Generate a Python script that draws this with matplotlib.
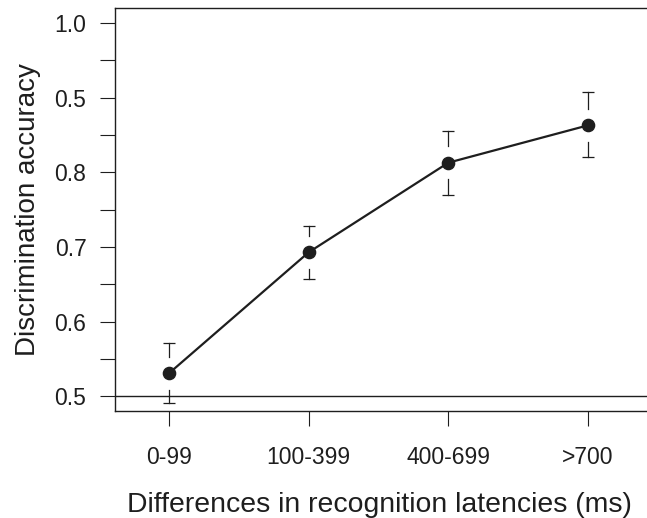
import matplotlib
matplotlib.use("Agg")
import matplotlib.pyplot as plt

plt.rcParams['font.family'] = ['Liberation Sans', 'DejaVu Sans']

# data
groups = ["0-99", "100-399", "400-699", ">700"]
accuracy = [0.531, 0.693, 0.813, 0.863]
upper = [0.571, 0.728, 0.856, 0.907]
lower = [0.491, 0.657, 0.770, 0.820]
ytick_vals = [0.5, 0.6, 0.7, 0.8, 0.9, 1.0]
ytick_text = ["0.5", "0.6", "0.7", "0.8", "0.5", "1.0"]  # as printed in the original
yminor_vals = [0.55, 0.65, 0.75, 0.85, 0.95]

xpos = list(range(1, len(groups) + 1))
gap = 0.0223
ink = "#1e1e1e"

fig = plt.figure(figsize=(6.47, 5.18), dpi=100)
ax = fig.add_axes([0.1777, 0.2072, 0.8223, 0.7774])

ax.axhline(0.5, color=ink, lw=1.0, zorder=1)

# error bars with a gap around the point
for x, m, u, l in zip(xpos, accuracy, upper, lower):
    ax.plot([x, x], [m + gap, u], color=ink, lw=0.9)
    ax.plot([x, x], [m - gap, l], color=ink, lw=0.9)
ax.plot(xpos, upper, ls='none', marker='_', ms=9, mew=0.9, color=ink)
ax.plot(xpos, lower, ls='none', marker='_', ms=9, mew=0.9, color=ink)

ax.plot(xpos, accuracy, color=ink, lw=1.6, marker='o', ms=8.8, zorder=3)

ax.set_xlim(0.6135, 4.422)
ax.set_ylim(0.481, 1.0201)

ax.set_xticks(xpos)
ax.set_xticklabels(groups, fontsize=16.5)
ax.set_yticks(ytick_vals)
ax.set_yticklabels(ytick_text, fontsize=16.5)
ax.set_yticks(yminor_vals, minor=True)
ax.tick_params(axis='both', which='both', direction='out', length=10.5, width=0.8, color=ink, labelcolor=ink)
ax.tick_params(axis='x', pad=15)
ax.tick_params(axis='y', pad=10)

ax.spines['right'].set_visible(False)
for s in ['left', 'bottom', 'top']:
    ax.spines[s].set_linewidth(1.0)
    ax.spines[s].set_color(ink)

fig.text(0.587, 6 / 518, "Differences in recognition latencies (ms)", fontsize=20.4,
         color=ink, ha='center', va='baseline')
ax.set_ylabel("Discrimination accuracy", fontsize=20, color=ink, labelpad=10)

fig.savefig("out.png", dpi=100)
